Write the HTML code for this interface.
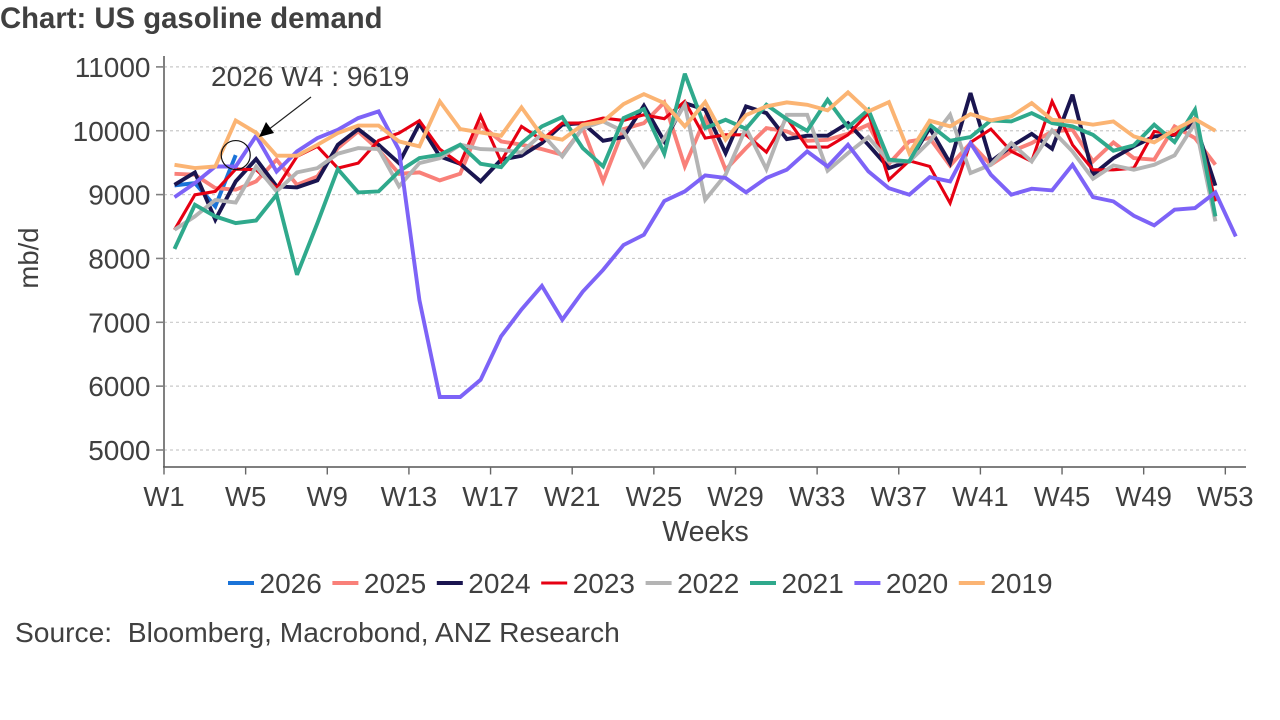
<!DOCTYPE html>
<html lang="en">
<head>
<meta charset="utf-8">
<title>US gasoline demand</title>
<style>
html,body{margin:0;padding:0;background:#fff;width:1280px;height:720px;overflow:hidden}
svg{display:block;font-family:"Liberation Sans",Arial,sans-serif}
</style>
</head>
<body>
<svg id="chart" xmlns="http://www.w3.org/2000/svg" width="1280" height="720" viewBox="0 0 1280 720">
  <text x="0" y="28" font-size="29.3" font-weight="bold" fill="#404040">Chart: US gasoline demand</text>
  <text transform="translate(38,258) rotate(-90)" text-anchor="middle" font-size="27.5" fill="#404040">mb/d</text>
  <text x="705.5" y="541" text-anchor="middle" font-size="28.5" fill="#404040">Weeks</text>
  <text x="15" y="642" font-size="28.2" fill="#404040" xml:space="preserve">Source:  Bloomberg, Macrobond, ANZ Research</text>
  <g id="grid"></g>
  <g id="axes"></g>
  <g id="series"></g>
  <g id="annotation"></g>
  <g id="legend"></g>
</svg>
<script>
const yTicks = [5000, 6000, 7000, 8000, 9000, 10000, 11000];
const weekLabels = ["W1","W5","W9","W13","W17","W21","W25","W29","W33","W37","W41","W45","W49","W53"];
const seriesNames = ["2026","2025","2024","2023","2022","2021","2020","2019"];
const seriesColors = ["#1a73d8","#f98079","#1a1550","#e60012","#b4b4b4","#2fa98c","#7d63f7","#fbb473"];

const values2026 = [9144,9180,8815,9619];
const values2025 = [9326,9311,9102,9076,9206,9546,9154,9285,9728,9990,9702,9326,9347,9222,9327,10094,9833,9781,9713,9624,10042,9206,10026,10120,10444,9441,10198,9390,9728,10042,9990,9843,9859,9953,10094,9483,9833,9885,9452,9807,9468,9676,9807,9990,10016,9520,9817,9572,9546,10068,9885,9468];
const values2024 = [9154,9347,8606,9206,9556,9128,9112,9222,9780,10026,9780,9493,10110,9598,9483,9206,9546,9608,9807,10094,10120,9843,9900,10392,9833,10433,10329,9650,10381,10277,9870,9922,9922,10120,9780,9415,9520,10042,9494,10590,9520,9755,9953,9718,10564,9311,9572,9755,9911,9937,10120,9139];
const values2023 = [8449,8997,9050,9400,9390,9102,9598,9755,9415,9493,9849,9963,10157,9713,9483,10235,9520,10068,9859,10120,10120,10198,10162,10250,10188,10459,9885,9937,9937,9666,10198,9744,9744,9937,10277,9233,9530,9441,8867,9817,10026,9676,9520,10459,9780,9389,9389,9415,9990,9937,10198,8893];
const values2022 = [8449,8658,8915,8877,9440,9050,9347,9415,9640,9728,9713,9128,9493,9570,9781,9713,9702,9660,9953,9598,10042,10146,9990,9441,9885,10407,8920,9311,10042,9400,10250,10250,9374,9650,9900,9520,9520,9833,10250,9337,9468,9807,9520,10005,9676,9248,9457,9389,9467,9614,10120,8580];
const values2021 = [8150,8840,8658,8553,8595,8997,7744,8553,9400,9034,9050,9363,9572,9624,9781,9483,9431,9807,10068,10214,9729,9441,10198,10339,9640,10893,10042,10172,10031,10407,10183,10000,10485,10052,10329,9546,9520,10094,9843,9900,10162,10146,10277,10120,10068,9937,9687,9770,10094,9822,10329,8658];
const values2020 = [8960,9180,9440,9440,9920,9360,9676,9885,10015,10198,10303,9700,7350,5830,5830,6100,6780,7200,7570,7040,7480,7820,8210,8370,8900,9050,9300,9260,9034,9260,9390,9676,9440,9780,9363,9100,8998,9274,9206,9807,9311,8998,9092,9066,9467,8961,8893,8669,8517,8763,8789,9034,8345];
const values2019 = [9467,9415,9440,10160,9970,9610,9610,9780,9963,10080,10080,9833,9755,10459,10026,9974,9922,10365,9922,9860,10094,10146,10418,10574,10433,10068,10449,9860,10245,10381,10444,10407,10318,10600,10303,10449,9650,10157,10068,10261,10162,10224,10433,10172,10146,10094,10146,9911,9817,10016,10183,10000];
const seriesValues = [values2026,values2025,values2024,values2023,values2022,values2021,values2020,values2019];

const annotationWeekIndex = 3;
const annotationLabel = "2026 W4 : 9619";

const NS = "http://www.w3.org/2000/svg";
function yScale(v){ return 450 + (5000 - v) * 0.06385; }
function xPoint(i){ return 174.5 + 20.41 * i; }
function xTick(i){ return 164 + 20.41 * i * 4; }
function lineWidth(name){ return name === "2023" ? 3.1 : 3.9; }
function make(tag, attrs, parent){
  const el = document.createElementNS(NS, tag);
  for (const k in attrs) el.setAttribute(k, attrs[k]);
  parent.appendChild(el);
  return el;
}
const gridG = document.getElementById("grid");
const axesG = document.getElementById("axes");
const seriesG = document.getElementById("series");
const annG = document.getElementById("annotation");
const legendG = document.getElementById("legend");

yTicks.forEach(function(t){
  const y = yScale(t);
  const g = make("line", {x1:164, x2:1246, y1:y, y2:y, stroke:"#c9c9c9", "stroke-width":1.2, "stroke-dasharray":"3 3"}, gridG);
  
  
  const m = make("line", {x1:156, x2:164, y1:y, y2:y, stroke:"#808080", "stroke-width":1.6}, axesG);
  
  
  const l = make("text", {x:150.5, y:y+10, "text-anchor":"end", "font-size":28, fill:"#404040"}, axesG);
  
  
  l.textContent = t;
});
const yAxis = make("line", {x1:164, x2:164, y1:56, y2:467, stroke:"#808080", "stroke-width":2}, axesG);


const xAxis = make("line", {x1:163, x2:1246, y1:467, y2:467, stroke:"#555555", "stroke-width":1.6}, axesG);



weekLabels.forEach(function(w, i){
  const x = xTick(i);
  const m = make("line", {x1:x, x2:x, y1:467, y2:474.5, stroke:"#666666", "stroke-width":1.4}, axesG);
  
  
  const l = make("text", {x:x, y:506, "text-anchor":"middle", "font-size":27.5, fill:"#404040"}, axesG);
  
  
  l.textContent = w;
});

seriesValues.forEach(function(vals, s){
  const pts = vals.map(function(v, i){ return xPoint(i).toFixed(1) + "," + yScale(v).toFixed(1); }).join(" ");
  const p = make("polyline", {points:pts, fill:"none", stroke:seriesColors[s], "stroke-width":lineWidth(seriesNames[s]), "stroke-linejoin":"miter", "stroke-miterlimit":3}, seriesG);
  
  
  p.setAttribute('data-series', seriesNames[s]);
});

const cx = xPoint(annotationWeekIndex), cy = yScale(values2026[annotationWeekIndex]);
const ring = make("circle", {cx:cx, cy:cy, r:14.5, fill:"none", stroke:"#111", "stroke-width":1.2}, annG);


const arrowLine = make("line", {x1:311, y1:97, x2:268, y2:130, stroke:"#222", "stroke-width":1.2}, annG);


const arrowHead = make("polygon", {points:"259,137 266,122 274,133", fill:"#000"}, annG);


const annText = make("text", {x:211, y:86, "font-size":28.1, fill:"#404040"}, annG);


annText.textContent = annotationLabel;

seriesNames.forEach(function(n, i){
  const x0 = 216 + 104.4 * i + 12;
  const k = make("line", {x1:x0, x2:x0+26, y1:583, y2:583, stroke:seriesColors[i], "stroke-width":lineWidth(n)}, legendG);
  
  
  const t = make("text", {x:x0+31.5, y:593, "font-size":28, fill:"#404040"}, legendG);
  
  
  t.textContent = n;
});
</script>
</body>
</html>
